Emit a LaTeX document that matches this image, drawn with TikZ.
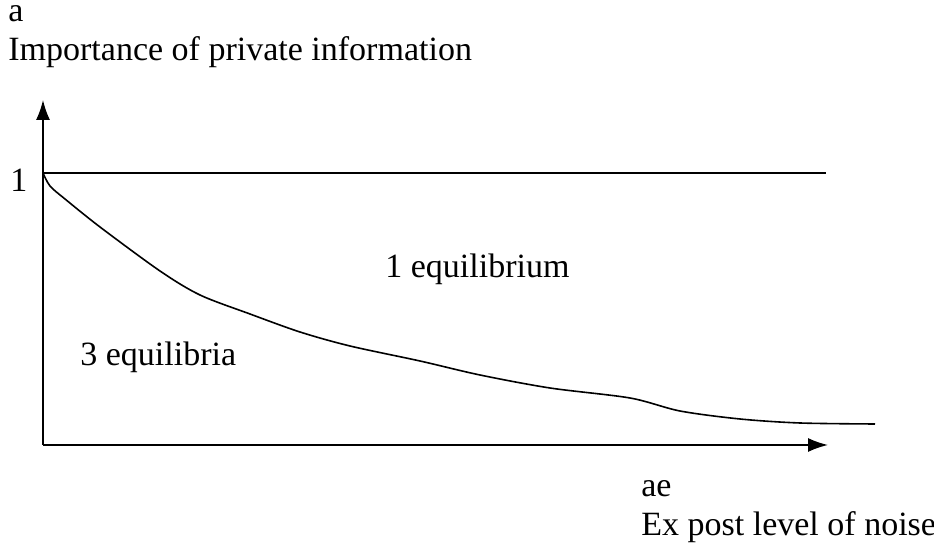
\documentclass[tikz,border=0pt]{standalone}
\usepackage{fontspec}
\setmainfont{Liberation Serif}
\usetikzlibrary{arrows.meta}
\begin{document}
\begin{tikzpicture}[x=0.5pt, y=-0.5pt, >={Latex[length=10pt,width=7pt]},
  lbl/.style={inner sep=0pt, anchor=base west, font=\fontsize{17}{20}\selectfont}]
\useasboundingbox (0,0) rectangle (934,549);

% Axes
\coordinate (o) at (43,445);
\coordinate (ytip) at (43,100);
\coordinate (xtip) at (828,445);
\draw[thick, ->] (o) -- (ytip);
\draw[thick, ->] (o) -- (xtip);

% Upper bound
\coordinate (one) at (43,173);
\coordinate (oneend) at (826,173);
\draw[thick] (one) -- (oneend);

% Boundary curve
\draw[thick] plot[smooth, tension=0.5] coordinates {(43,173) (50,186) (65,199) (100,227) (160,271) (200,295) (250,314) (300,332) (350,346) (420,361) (480,375) (550,388) (630,398) (680,411) (740,419) (800,423) (875,424)};

% Labels
\node[lbl] (a) at (8,22) {a};
\node[lbl] (ylab) at (8,61) {Importance of private information};
\node[lbl] (tick) at (10,192) {1};
\node[lbl] (oneeq) at (385,278) {1 equilibrium};
\node[lbl] (threeeq) at (80,366) {3 equilibria};
\node[lbl] (ae) at (641,497) {ae};
\node[lbl] (xlab) at (641,536) {Ex post level of noise};
\end{tikzpicture}
\end{document}
